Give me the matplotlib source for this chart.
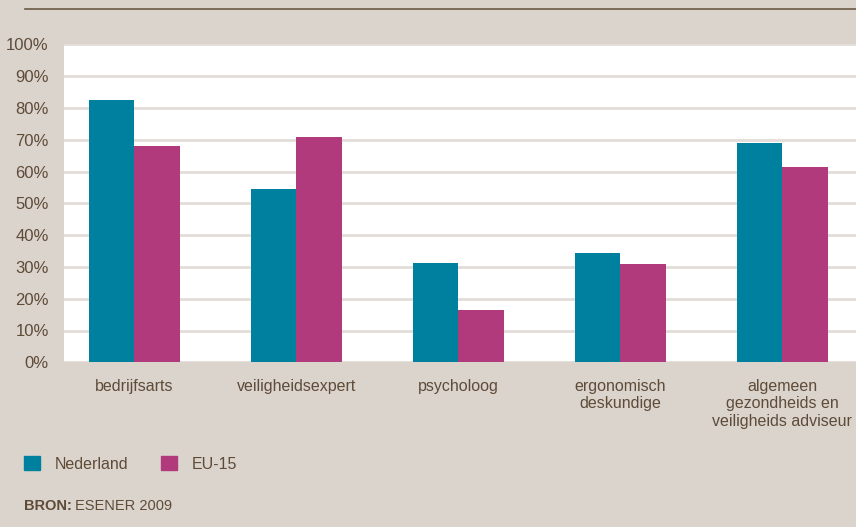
import matplotlib.pyplot as plt
import numpy as np
from matplotlib.patches import Patch

# Gegevens (ESENER 2009)
categories = ["bedrijfsarts", "veiligheidsexpert", "psycholoog",
              "ergonomisch\ndeskundige",
              "algemeen\ngezondheids en\nveiligheids adviseur"]
nederland = [82.5, 54.5, 31.2, 34.4, 69.0]
eu15 = [68.0, 70.8, 16.5, 30.9, 61.3]
yticks = [0, 10, 20, 30, 40, 50, 60, 70, 80, 90, 100]

bg = "#dbd4cd"
txt = "#5e4b38"
teal = "#00809f"
magenta = "#b03a7c"

plt.rcParams['font.family'] = ['Liberation Sans', 'DejaVu Sans']

fig = plt.figure(figsize=(8.56, 5.27), dpi=100, facecolor=bg)
ax = fig.add_axes([64 / 856, 1 - 362.3 / 527, 1 - 64 / 856, 318 / 527])
ax.set_facecolor("white")

x = np.arange(len(categories))
w = 0.281
ax.bar(x - w / 2, nederland, width=w, color=teal, label="Nederland", zorder=3)
ax.bar(x + w / 2, eu15, width=w, color=magenta, label="EU-15", zorder=3)

ax.set_ylim(0, 100)
ax.set_xlim(-0.435, 4.456)
ax.set_yticks(yticks)
ax.set_yticklabels([f"{v}%" for v in yticks], color=txt, fontsize=12)
ax.set_xticks(x)
ax.set_xticklabels(categories, color=txt, fontsize=11.5, linespacing=1.2)
ax.tick_params(axis='both', length=0)
ax.tick_params(axis='x', pad=12)
ax.tick_params(axis='y', pad=11)
ax.grid(axis='y', color="#e2ddd8", linewidth=2, zorder=0)
for s in ax.spines.values():
    s.set_visible(False)

# lijn bovenaan
fig.add_artist(plt.Line2D([25 / 856, 1], [1 - 9 / 527, 1 - 9 / 527],
                          color="#6b5a45", linewidth=1.2))

handles = [Patch(color=teal), Patch(color=magenta)]
fig.legend(handles, ["Nederland", "EU-15"], loc='center left',
           bbox_to_anchor=(24 / 856, 1 - 464 / 527), ncol=2, frameon=False,
           borderaxespad=0, borderpad=0,
           handlelength=1.0, handleheight=1.0, handletextpad=0.95,
           columnspacing=2.0, labelcolor=txt, fontsize=11.5)

fig.text(24 / 856, 1 - 506 / 527, "BRON:", fontsize=10.5, color=txt,
         fontweight='bold', va='center')
fig.text(75 / 856, 1 - 506 / 527, "ESENER 2009", fontsize=10.5, color=txt,
         va='center')

fig.savefig("out.png", dpi=100, facecolor=bg)
